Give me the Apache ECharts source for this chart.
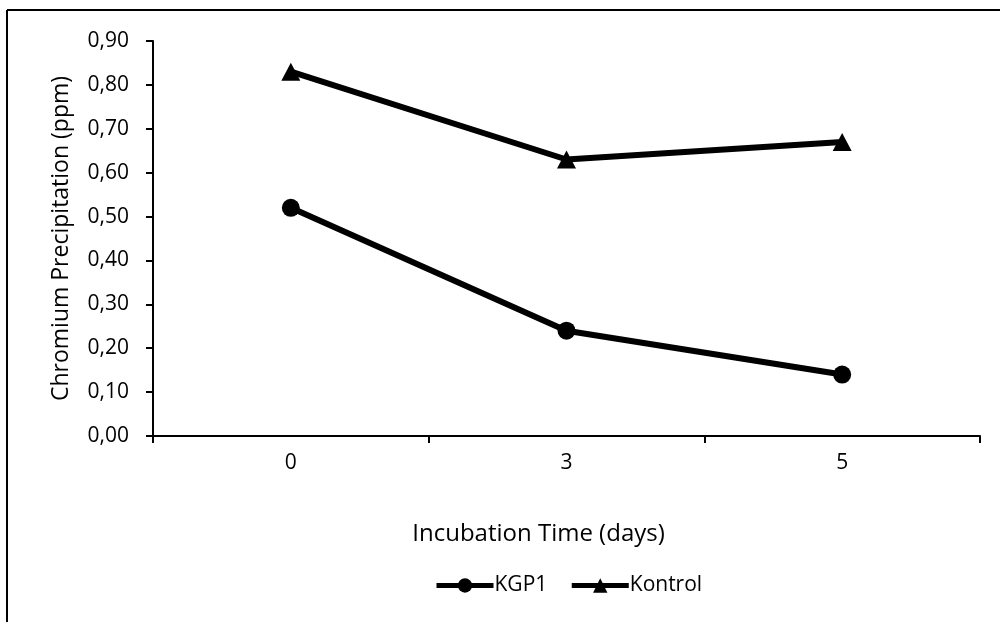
<!DOCTYPE html>
<html>
<head>
<meta charset="utf-8">
<script src="https://cdn.jsdelivr.net/npm/echarts@6/dist/echarts.min.js"></script>
<style>
html,body{margin:0;padding:0;background:#fff;}
#chart{width:1000px;height:622px;}
</style>
</head>
<body>
<div id="chart"></div>
<script>
const categories = ['0', '3', '5'];
const kgp1 = [0.52, 0.24, 0.14];
const kontrol = [0.83, 0.63, 0.67];
const yTicks = [0, 0.1, 0.2, 0.3, 0.4, 0.5, 0.6, 0.7, 0.8, 0.9];

const FONT = 'Open Sans';
const chart = echarts.init(document.getElementById('chart'));
chart.setOption({
  backgroundColor: '#fff',
  animation: false,
  textStyle: {fontFamily: FONT, color: '#000'},
  graphic: [
    {type: 'line', shape: {x1: 7, y1: 10, x2: 1000, y2: 10}, style: {stroke: '#000', lineWidth: 2}},
    {type: 'line', shape: {x1: 7, y1: 10, x2: 7, y2: 622}, style: {stroke: '#000', lineWidth: 2}}
  ],
  grid: {left: 153, right: 20, top: 41, bottom: 186, containLabel: false},
  legend: {
    top: 570,
    left: 429,
    itemGap: 22,
    itemWidth: 57,
    itemHeight: 18,
    lineStyle: {width: 5},
    textStyle: {fontFamily: FONT, fontSize: 21, color: '#000', padding: [0, 0, 0, -4]},
    data: ['KGP1', 'Kontrol']
  },
  xAxis: {
    type: 'category',
    data: categories,
    boundaryGap: true,
    name: 'Incubation Time (days)',
    nameLocation: 'middle',
    nameGap: 86,
    nameTextStyle: {fontFamily: FONT, fontSize: 24, color: '#000', padding: [0, 56, 0, 0]},
    axisLine: {lineStyle: {color: '#000', width: 2}},
    axisTick: {show: true, inside: false, length: 7, lineStyle: {color: '#000', width: 2}},
    axisLabel: {fontFamily: FONT, fontSize: 21, color: '#000', margin: 17},
    splitLine: {show: false}
  },
  yAxis: {
    type: 'value',
    min: 0,
    max: 0.9,
    interval: 0.1,
    name: 'Chromium Precipitation (ppm)',
    nameLocation: 'middle',
    nameGap: 80,
    nameRotate: 90,
    nameTextStyle: {fontFamily: FONT, fontSize: 23, color: '#000'},
    axisLine: {show: true, lineStyle: {color: '#000', width: 2}},
    axisTick: {show: true, inside: false, length: 7, lineStyle: {color: '#000', width: 2}},
    axisLabel: {
      fontFamily: FONT, fontSize: 21, color: '#000', margin: 24,
      formatter: v => v.toFixed(2).replace('.', ',')
    },
    splitLine: {show: false}
  },
  series: [
    {
      name: 'KGP1',
      type: 'line',
      data: kgp1,
      symbol: 'circle',
      symbolSize: 18,
      lineStyle: {color: '#000', width: 6},
      itemStyle: {color: '#000'}
    },
    {
      name: 'Kontrol',
      type: 'line',
      data: kontrol,
      symbol: 'triangle',
      symbolSize: [19, 18],
      lineStyle: {color: '#000', width: 6},
      itemStyle: {color: '#000'}
    }
  ]
});
</script>
</body>
</html>
